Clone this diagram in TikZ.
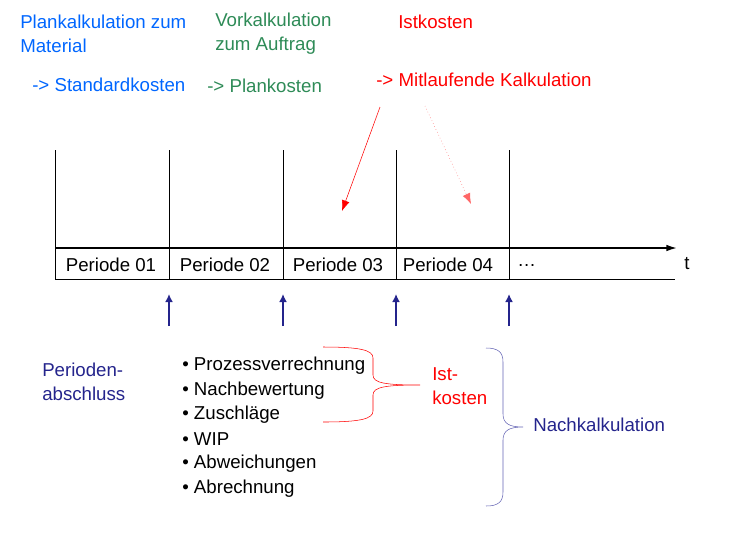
\documentclass[tikz,border=0pt]{standalone}
\usepackage{fontspec}
\setmainfont{Liberation Sans}
\definecolor{cblue}{RGB}{0,102,255}
\definecolor{cgreen}{RGB}{46,139,87}
\definecolor{cred}{RGB}{255,0,0}
\definecolor{cnavy}{RGB}{36,36,140}
\definecolor{cbrace}{RGB}{100,100,180}
\begin{document}
\begin{tikzpicture}[x=0.75pt,y=-0.75pt,
  txt/.style={anchor=west,inner sep=0,font=\fontsize{14}{18}\selectfont,align=left},
  lbl/.style={inner sep=0,font=\fontsize{14}{18}\selectfont},
  upar/.style={cnavy,line width=1.8pt,-{Latex[length=6pt,width=6pt]}}]
\usetikzlibrary{arrows.meta}
\useasboundingbox (0,0) rectangle (737,540);
% headings
\node[txt,cblue] (h1) at (20,34) {Plankalkulation zum\\Material};
\node[txt,cgreen] (h2) at (215,34) {Vorkalkulation\\zum Auftrag};
\node[txt,cred] (h3) at (398,22) {Istkosten};
\node[txt,cblue] (s1) at (32,85) {-> Standardkosten};
\node[txt,cgreen] (s2) at (207,86) {-> Plankosten};
\node[txt,cred] (s3) at (376,80) {-> Mitlaufende Kalkulation};
% timeline
\foreach \i/\x in {0/55,1/169,2/283,3/396,4/509}{
  \coordinate (t\i) at (\x,150); \coordinate (b\i) at (\x,279);
  \draw[black] (t\i) -- (\x,248);
  \draw[black] (\x,248) -- (b\i);
}
\coordinate (axs) at (55,248); \coordinate (axe) at (677,248);
\draw[black,line width=1.2pt,-{Latex[length=8pt,width=5pt]}] (axs) -- (axe);
\coordinate (bs) at (55,279); \coordinate (be) at (675,279);
\draw (bs) -- (be);
\node[lbl] (p1) at (111,265) {Periode 01};
\node[lbl] (p2) at (225,265) {Periode 02};
\node[lbl] (p3) at (338,265) {Periode 03};
\node[lbl] (p4) at (448,265) {Periode 04};
\node[txt] (p5) at (517,265) {\dots};
\node[lbl] (tt) at (687,264) {t};
% up arrows
\foreach \i/\x in {1/169,2/283,3/396,4/509}{
  \coordinate (ua\i) at (\x,326); \coordinate (ub\i) at (\x,294);
  \draw[upar] (ua\i) -- (ub\i);
}
% red arrows
\coordinate (r1a) at (380,107); \coordinate (r1b) at (342,211);
\coordinate (r2a) at (425,106); \coordinate (r2b) at (471,204);
\draw[cred,-{Latex[length=8pt,width=6pt]}] (r1a) -- (r1b);
\draw[cred!60,dotted,-{Latex[length=8pt,width=6pt]}] (r2a) -- (r2b);
% bottom
\node[txt,cnavy] (pa) at (42,382) {Perioden-\\abschluss};
\foreach \t [count=\k] in {Prozessverrechnung,Nachbewertung,Zuschläge,WIP,Abweichungen,Abrechnung}{
  \node[txt] (l\k) at (182,341+24.6*\k) {• \t};
}
\draw[cred] (323,347) .. controls (360,347) and (373,350) .. (373,358)
  -- (373,375) .. controls (373,383) and (385,385) .. (420,385)
  (323,422) .. controls (360,422) and (373,419) .. (373,411)
  -- (373,395) .. controls (373,387) and (385,385) .. (420,385);
\node[txt,cred] (ik) at (432,386) {Ist-\\kosten};
\draw[cbrace] (486,348) .. controls (498,348) and (503,352) .. (503,362)
  -- (503,414) .. controls (503,424) and (510,427) .. (523,427)
  (486,506) .. controls (498,506) and (503,502) .. (503,492)
  -- (503,440) .. controls (503,430) and (510,427) .. (523,427);
\node[txt,cnavy] (nk) at (533,425) {Nachkalkulation};
\end{tikzpicture}
\end{document}
